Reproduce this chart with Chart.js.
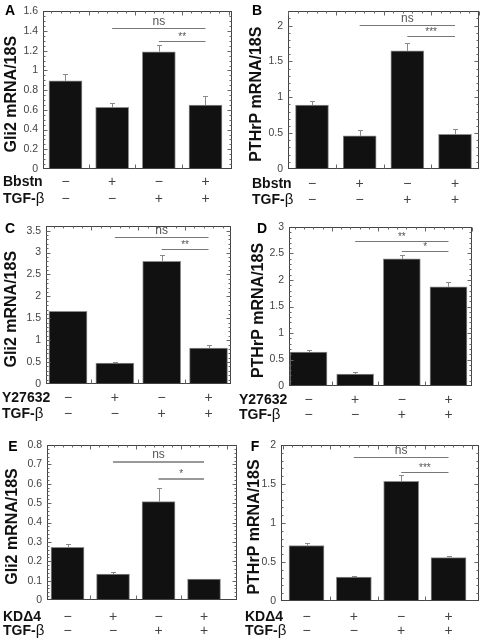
<!DOCTYPE html>
<html><head><meta charset="utf-8">
<script src="https://cdn.jsdelivr.net/npm/chart.js@4"></script>
<style>
html,body{margin:0;padding:0;background:#fff;}
body{width:484px;height:643px;position:relative;overflow:hidden;}
canvas{position:absolute;}
</style></head><body>
<script>
// ---- data ----
const conditions = [1, 2, 3, 4];
const treatSigns = ['\u2212', '+', '\u2212', '+'];
const tgfSigns = ['\u2212', '\u2212', '+', '+'];
const sigFrom = [2, 3];
const sigTo = [4, 4];

const aValues = [0.894, 0.626, 1.19, 0.649];
const aErrors = [0.071, 0.040, 0.070, 0.093];
const aSigLevels = [1.43, 1.30];
const aSigLabels = ['ns', '**'];

const bValues = [0.893, 0.462, 1.648, 0.485];
const bErrors = [0.062, 0.081, 0.114, 0.072];
const bSigLevels = [2.01, 1.86];
const bSigLabels = ['ns', '***'];

const cValues = [1.66, 0.48, 2.80, 0.82];
const cErrors = [0.0, 0.02, 0.15, 0.07];
const cSigLevels = [3.35, 3.08];
const cSigLabels = ['ns', '**'];

const dValues = [0.64, 0.226, 2.40, 1.87];
const dErrors = [0.03, 0.032, 0.065, 0.086];
const dSigLevels = [2.73, 2.54];
const dSigLabels = ['**', '*'];

const eValues = [0.272, 0.134, 0.508, 0.108];
const eErrors = [0.015, 0.009, 0.069, 0.0];
const eSigLevels = [0.711, 0.625];
const eSigLabels = ['ns', '*'];

const fValues = [0.711, 0.308, 1.533, 0.557];
const fErrors = [0.034, 0.013, 0.077, 0.025];
const fSigLevels = [1.84, 1.657];
const fSigLabels = ['ns', '***'];

// y-axis ranges / ticks
const aTicks = {max: 1.6, step: 0.2, minor: 0.05};
const bTicks = {max: 2.2, step: 0.5, minor: 0.1};
const cTicks = {max: 3.6, step: 0.5, minor: 0.1};
const dTicks = {max: 3.0, step: 0.5, minor: 0.1};
const eTicks = {max: 0.8, step: 0.1, minor: 0.02};
const fTicks = {max: 2.0, step: 0.5, minor: 0.1};

// ---- layout ----
const panels = [
 {canvas:[0,0,242,215], plot:[43,9,232,169], letter:'A', letterPos:[10,11], title:'Gli2 mRNA/18S', titleX:12,
  treat:'Bbstn', rowY:[182,199], rowX:3, values:aValues, errors:aErrors, sigL:aSigLevels, sigT:aSigLabels, ticks:aTicks,
  xRange:[0.518,4.568], barW:33, sigW:1, sigC:'#777'},
 {canvas:[242,0,242,215], plot:[288,7,479,169], letter:'B', letterPos:[257,11], title:'PTHrP mRNA/18S', titleX:257,
  treat:'Bbstn', rowY:[184,200], rowX:252, values:bValues, errors:bErrors, sigL:bSigLevels, sigT:bSigLabels, ticks:bTicks,
  xRange:[0.497,4.503], barW:33, sigW:1, sigC:'#777'},
 {canvas:[0,215,236,215], plot:[46,225,231,384], letter:'C', letterPos:[10,229], title:'Gli2 mRNA/18S', titleX:12,
  treat:'Y27632', rowY:[398,414], rowX:2, values:cValues, errors:cErrors, sigL:cSigLevels, sigT:cSigLabels, ticks:cTicks,
  xRange:[0.530,4.48], barW:38, sigW:1, sigC:'#777'},
 {canvas:[236,215,248,215], plot:[289,227,472,386], letter:'D', letterPos:[262,229], title:'PTHrP mRNA/18S', titleX:259,
  treat:'Y27632', rowY:[400,415], rowX:239, values:dValues, errors:dErrors, sigL:dSigLevels, sigT:dSigLabels, ticks:dTicks,
  xRange:[0.582,4.504], barW:37, sigW:1, sigC:'#777'},
 {canvas:[0,430,242,213], plot:[47,445,237,600], letter:'E', letterPos:[13,447], title:'Gli2 mRNA/18S', titleX:13,
  treat:'KD\u03944', rowY:[617,631], rowX:3, values:eValues, errors:eErrors, sigL:eSigLevels, sigT:eSigLabels, ticks:eTicks,
  xRange:[0.549,4.725], barW:33, sigW:2, sigC:'#999'},
 {canvas:[242,430,242,213], plot:[281,445,479,601], letter:'F', letterPos:[255,447], title:'PTHrP mRNA/18S', titleX:255,
  treat:'KD\u03944', rowY:[617,631], rowX:245, values:fValues, errors:fErrors, sigL:fSigLevels, sigT:fSigLabels, ticks:fTicks,
  xRange:[0.461,4.644], barW:35, sigW:1, sigC:'#777'}
];

const FONT = '"Liberation Sans", Arial, sans-serif';

function makePlugin(p) {
  const ox = p.canvas[0], oy = p.canvas[1];
  return {
    id: 'deco',
    afterDatasetsDraw(chart) {
      const ctx = chart.ctx, xs = chart.scales.x, ys = chart.scales.y;
      // error bars
      ctx.save();
      ctx.strokeStyle = '#8a8a8a'; ctx.lineWidth = 1;
      p.values.forEach((v, i) => {
        const e = p.errors[i];
        if (!e) return;
        const x = Math.round(xs.getPixelForValue(conditions[i])) + 0.5;
        const y0 = ys.getPixelForValue(v), y1 = Math.round(ys.getPixelForValue(v + e)) + 0.5;
        ctx.beginPath(); ctx.moveTo(x, y0); ctx.lineTo(x, y1);
        ctx.moveTo(x - 2.5, y1); ctx.lineTo(x + 2.5, y1); ctx.stroke();
      });
      ctx.restore();
    },
    afterDraw(chart) {
      const ctx = chart.ctx, xs = chart.scales.x, ys = chart.scales.y, a = chart.chartArea;
      ctx.save();
      // frame
      ctx.strokeStyle = '#444'; ctx.lineWidth = 1;
      const L = Math.round(a.left) + 0.5, R = Math.round(a.right) - 0.5, T = Math.round(a.top) + 0.5, B = Math.round(a.bottom) - 0.5;
      ctx.strokeRect(L, T, R - L, B - T);
      // y ticks (left + right, inward)
      const t = p.ticks;
      const nMinor = Math.round(t.max / t.minor);
      const ratio = Math.round(t.step / t.minor);
      ctx.strokeStyle = '#666';
      ctx.beginPath();
      for (let k = 1; k < nMinor; k++) {
        const y = Math.round(ys.getPixelForValue(k * t.minor)) + 0.5;
        const len = (k % ratio === 0) ? 4 : 2;
        ctx.moveTo(L, y); ctx.lineTo(L + len, y);
        ctx.moveTo(R, y); ctx.lineTo(R - len, y);
      }
      // x ticks on top (minor) and at category boundaries
      for (let xv = 0.5; xv <= p.xRange[1]; xv += 0.2) {
        if (xv < p.xRange[0]) continue;
        const x = Math.round(xs.getPixelForValue(xv)) + 0.5;
        const major = Math.abs((xv - 0.5) - Math.round(xv - 0.5)) < 1e-6;
        const len = major ? 4 : 2;
        ctx.moveTo(x, T); ctx.lineTo(x, T + len);
        if (major && xv > 1 && xv < 4) { ctx.moveTo(x, B); ctx.lineTo(x, B - 4); }
      }
      ctx.stroke();
      // significance lines
      p.sigL.forEach((lv, i) => {
        const x1 = xs.getPixelForValue(sigFrom[i]), x2 = xs.getPixelForValue(sigTo[i]);
        const y = Math.round(ys.getPixelForValue(lv)) + (p.sigW === 1 ? 0.5 : 0);
        ctx.strokeStyle = p.sigC; ctx.lineWidth = p.sigW;
        ctx.beginPath(); ctx.moveTo(x1, y); ctx.lineTo(x2, y); ctx.stroke();
        ctx.fillStyle = '#555'; ctx.textAlign = 'center'; ctx.textBaseline = 'alphabetic';
        const isNs = p.sigT[i] === 'ns';
        ctx.font = (isNs ? '12px ' : '10px ') + FONT;
        ctx.fillText(p.sigT[i], (x1 + x2) / 2, y - (isNs ? 4 : 2));
      });
      // y title
      ctx.save();
      ctx.translate(p.titleX - ox, (a.top + a.bottom) / 2 + 4);
      ctx.rotate(-Math.PI / 2);
      ctx.fillStyle = '#111'; ctx.font = 'bold 16px ' + FONT;
      ctx.textAlign = 'center'; ctx.textBaseline = 'middle';
      ctx.fillText(p.title, 0, 0);
      ctx.restore();
      // panel letter
      ctx.fillStyle = '#000'; ctx.font = 'bold 14px ' + FONT;
      ctx.textAlign = 'center'; ctx.textBaseline = 'middle';
      ctx.fillText(p.letter, p.letterPos[0] - ox, p.letterPos[1] - oy);
      // treatment rows
      ctx.textAlign = 'left';
      ctx.font = 'bold 14px ' + FONT; ctx.fillStyle = '#111';
      ctx.fillText(p.treat, p.rowX - ox, p.rowY[0] - oy);
      ctx.fillText('TGF-', p.rowX - ox, p.rowY[1] - oy);
      const w = ctx.measureText('TGF-').width;
      ctx.font = '15px ' + FONT;
      ctx.fillText('\u03B2', p.rowX - ox + w, p.rowY[1] - oy);
      ctx.textAlign = 'center'; ctx.font = '14px ' + FONT; ctx.fillStyle = '#444';
      conditions.forEach((c, i) => {
        const x = xs.getPixelForValue(c);
        ctx.fillText(treatSigns[i], x, p.rowY[0] - oy);
        ctx.fillText(tgfSigns[i], x, p.rowY[1] - oy);
      });
      ctx.restore();
    }
  };
}

panels.forEach(p => {
  const cv = document.createElement('canvas');
  const [cx, cy, cw, ch] = p.canvas;
  cv.width = cw; cv.height = ch;
  cv.style.left = cx + 'px'; cv.style.top = cy + 'px';
  cv.style.width = cw + 'px'; cv.style.height = ch + 'px';
  document.body.appendChild(cv);
  const [pl, pt, pr, pb] = p.plot;
  new Chart(cv, {
    type: 'bar',
    data: {
      datasets: [{
        data: conditions.map((c, i) => ({x: c, y: p.values[i]})),
        backgroundColor: '#111',
        borderColor: '#8c8c8c',
        borderWidth: 1,
        barThickness: p.barW
      }]
    },
    options: {
      responsive: false, animation: false, devicePixelRatio: 1,
      layout: {padding: {left: 0, top: pt - cy, right: (cx + cw) - pr, bottom: (cy + ch) - pb}},
      plugins: {legend: {display: false}, tooltip: {enabled: false}},
      scales: {
        x: {type: 'linear', display: false, offset: false, min: p.xRange[0], max: p.xRange[1]},
        y: {
          min: 0, max: p.ticks.max,
          grid: {display: false, drawTicks: false, tickLength: 0},
          border: {display: false},
          ticks: {stepSize: p.ticks.step, includeBounds: false, padding: 5, color: '#444',
                  font: {family: FONT, size: 10.5},
                  callback: v => String(parseFloat(Number(v).toFixed(3)))},
          afterFit(scale) { scale.width = pl - cx; }
        }
      }
    },
    plugins: [makePlugin(p)]
  });
});
</script>
</body></html>
